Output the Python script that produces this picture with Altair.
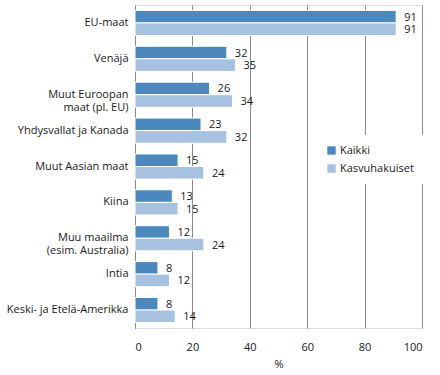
import altair as alt
import pandas as pd

categories = ["EU-maat", "Venäjä", "Muut Euroopan|maat (pl. EU)", "Yhdysvallat ja Kanada",
              "Muut Aasian maat", "Kiina", "Muu maailma|(esim. Australia)", "Intia",
              "Keski- ja Etelä-Amerikka"]
series = ["Kaikki", "Kasvuhakuiset"]
kaikki = [91, 32, 26, 23, 15, 13, 12, 8, 8]
kasvu = [91, 35, 34, 32, 24, 15, 24, 12, 14]
x_ticks = [0, 20, 40, 60, 80, 100]

rows = []
for c, a, b in zip(categories, kaikki, kasvu):
    rows.append({"cat": c, "series": series[0], "value": a})
    rows.append({"cat": c, "series": series[1], "value": b})
df = pd.DataFrame(rows)

FONT = "Open Sans"
colors = ["#4A89C0", "#A7C1E0"]

y_enc = alt.Y("cat:N", sort=categories, title=None,
              scale=alt.Scale(paddingInner=0.3, paddingOuter=0.15),
              axis=alt.Axis(labelExpr="split(datum.label, '|')", labelFontSize=11,
                            labelColor="#1a1a1a", labelFont=FONT, ticks=False,
                            labelPadding=7, domainColor="#8c8c8c", labelLineHeight=13))
x_enc = alt.X("value:Q", title="%", scale=alt.Scale(domain=[0, 100], nice=False),
              axis=alt.Axis(values=x_ticks, grid=True, gridColor="#8c8c8c", gridOpacity=1,
                            domain=False, ticks=False, labelFontSize=11, labelColor="#1a1a1a",
                            labelFont=FONT, labelPadding=13, titleFont=FONT, titleFontSize=11,
                            titleFontWeight="normal", titleColor="#1a1a1a", titlePadding=6))

base = alt.Chart(df).encode(
    y=y_enc,
    yOffset=alt.YOffset("series:N", sort=series),
)

bars = base.mark_bar(stroke="white", strokeWidth=1).encode(
    x=x_enc,
    color=alt.Color("series:N", sort=series, scale=alt.Scale(domain=series, range=colors),
                    legend=alt.Legend(title=None, orient="none", legendX=181, legendY=130,
                                      fillColor="white", padding=10, symbolType="square",
                                      symbolSize=70, symbolStrokeWidth=0, labelFont=FONT,
                                      labelFontSize=11, labelColor="#1a1a1a", rowPadding=6,
                                      labelOffset=3)),
)

labels = base.mark_text(align="left", baseline="middle", dx=8, dy=1, font=FONT,
                        fontSize=11, color="#1a1a1a").encode(
    x="value:Q",
    text="value:Q",
)

chart = (bars + labels).properties(
    width=287, height=323,
    autosize=alt.AutoSizeParams(type="none"),
    padding={"left": 135, "top": 5, "right": 18, "bottom": 47},
).configure_view(stroke=None).configure(background="white")

chart.save("out.html", embed_options={"renderer": "svg", "actions": False})
